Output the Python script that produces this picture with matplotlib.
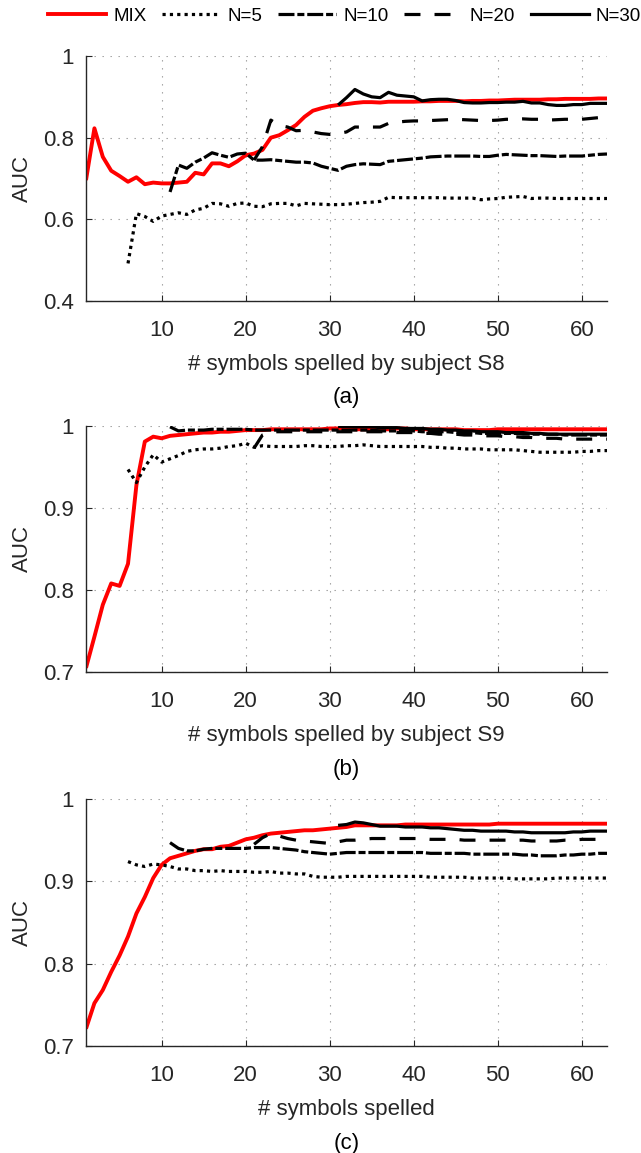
import numpy as np
import matplotlib
matplotlib.use("Agg")
import matplotlib.pyplot as plt
from matplotlib.lines import Line2D

plt.rcParams['font.family'] = ['Liberation Sans', 'DejaVu Sans']

# ---------------- data ----------------
series_names = ["MIX", "N=5", "N=10", "N=20", "N=30"]
series_start = [1, 6, 11, 21, 31]   # first symbol index of each curve
x_end = 63

# subject S8
mix_a = [0.696, 0.823, 0.753, 0.719, 0.706, 0.692, 0.703, 0.686, 0.690, 0.688,
         0.688, 0.690, 0.692, 0.714, 0.710, 0.737, 0.737, 0.730, 0.742, 0.757,
         0.761, 0.770, 0.800, 0.806, 0.818, 0.831, 0.851, 0.866, 0.872, 0.877,
         0.880, 0.882, 0.885, 0.887, 0.887, 0.886, 0.888, 0.888, 0.888, 0.888,
         0.889, 0.889, 0.890, 0.890, 0.890, 0.889, 0.890, 0.890, 0.891, 0.891,
         0.892, 0.893, 0.893, 0.893, 0.893, 0.894, 0.894, 0.895, 0.895, 0.895,
         0.895, 0.896, 0.896]
n5_a = [0.492, 0.614, 0.607, 0.595, 0.608, 0.612, 0.616, 0.612, 0.623, 0.627,
        0.639, 0.638, 0.632, 0.639, 0.640, 0.632, 0.631, 0.638, 0.639, 0.639,
        0.633, 0.639, 0.638, 0.637, 0.636, 0.636, 0.637, 0.639, 0.641, 0.642,
        0.644, 0.654, 0.653, 0.653, 0.653, 0.653, 0.653, 0.653, 0.652, 0.652,
        0.652, 0.652, 0.648, 0.650, 0.651, 0.654, 0.655, 0.656, 0.651, 0.652,
        0.652, 0.651, 0.651, 0.651, 0.651, 0.651, 0.651, 0.651]
n10_a = [0.667, 0.733, 0.725, 0.740, 0.750, 0.763, 0.757, 0.752, 0.760, 0.762,
         0.745, 0.745, 0.746, 0.744, 0.742, 0.740, 0.740, 0.738, 0.730, 0.725,
         0.720, 0.730, 0.734, 0.736, 0.735, 0.734, 0.742, 0.744, 0.746, 0.748,
         0.750, 0.753, 0.754, 0.755, 0.755, 0.755, 0.755, 0.754, 0.754, 0.757,
         0.759, 0.758, 0.757, 0.756, 0.756, 0.755, 0.754, 0.755, 0.755, 0.755,
         0.757, 0.759, 0.760]
n20_a = [0.745, 0.778, 0.843, 0.830, 0.826, 0.817, 0.818, 0.814, 0.810, 0.808,
         0.810, 0.814, 0.826, 0.826, 0.826, 0.826, 0.835, 0.838, 0.840, 0.841,
         0.841, 0.842, 0.843, 0.844, 0.845, 0.844, 0.843, 0.842, 0.842, 0.843,
         0.845, 0.845, 0.846, 0.845, 0.845, 0.843, 0.844, 0.845, 0.845, 0.845,
         0.847, 0.849, 0.851]
n30_a = [0.880, 0.898, 0.918, 0.907, 0.900, 0.898, 0.911, 0.904, 0.902, 0.900,
         0.890, 0.893, 0.894, 0.894, 0.891, 0.886, 0.885, 0.885, 0.886, 0.886,
         0.887, 0.887, 0.889, 0.885, 0.885, 0.881, 0.879, 0.879, 0.881, 0.881,
         0.884, 0.884, 0.884]

# subject S9
mix_b = [0.705, 0.743, 0.782, 0.808, 0.805, 0.832, 0.928, 0.981, 0.987, 0.985,
         0.988, 0.989, 0.990, 0.991, 0.992, 0.992, 0.993, 0.993, 0.994, 0.995,
         0.995, 0.995, 0.996, 0.996, 0.996, 0.996, 0.996, 0.996, 0.996, 0.997,
         0.997, 0.997, 0.996, 0.996, 0.996, 0.996, 0.996, 0.997, 0.997, 0.996,
         0.996, 0.996, 0.996, 0.996, 0.996, 0.995, 0.995, 0.995, 0.995, 0.996,
         0.996, 0.996, 0.996, 0.996, 0.996, 0.996, 0.996, 0.996, 0.996, 0.996,
         0.996, 0.996, 0.996]
n5_b = [0.947, 0.931, 0.950, 0.965, 0.956, 0.960, 0.964, 0.969, 0.971, 0.972,
        0.972, 0.973, 0.975, 0.976, 0.979, 0.974, 0.976, 0.975, 0.975, 0.975,
        0.975, 0.976, 0.976, 0.975, 0.975, 0.975, 0.976, 0.976, 0.977, 0.976,
        0.975, 0.975, 0.975, 0.975, 0.975, 0.975, 0.974, 0.974, 0.973, 0.973,
        0.972, 0.972, 0.972, 0.971, 0.971, 0.971, 0.971, 0.970, 0.969, 0.968,
        0.968, 0.968, 0.968, 0.968, 0.969, 0.969, 0.970, 0.970]
n10_b = [0.999, 0.994, 0.995, 0.995, 0.995, 0.996, 0.996, 0.996, 0.996, 0.996,
         0.995, 0.995, 0.995, 0.995, 0.995, 0.995, 0.995, 0.995, 0.995, 0.995,
         0.995, 0.995, 0.995, 0.995, 0.995, 0.994, 0.994, 0.994, 0.994, 0.994,
         0.993, 0.993, 0.993, 0.993, 0.992, 0.992, 0.992, 0.991, 0.991, 0.991,
         0.991, 0.991, 0.990, 0.990, 0.990, 0.990, 0.990, 0.989, 0.989, 0.989,
         0.989, 0.989, 0.989]
n20_b = [0.973, 0.989, 0.993, 0.993, 0.993, 0.993, 0.993, 0.993, 0.993, 0.993,
         0.993, 0.993, 0.993, 0.993, 0.993, 0.993, 0.993, 0.992, 0.992, 0.992,
         0.991, 0.991, 0.990, 0.990, 0.990, 0.989, 0.989, 0.988, 0.988, 0.988,
         0.987, 0.987, 0.986, 0.986, 0.985, 0.985, 0.985, 0.984, 0.984, 0.984,
         0.984, 0.984, 0.984]
n30_b = [0.9995, 0.9995, 0.999, 0.999, 0.999, 0.998, 0.998, 0.998, 0.997, 0.997,
         0.997, 0.996, 0.996, 0.995, 0.995, 0.994, 0.994, 0.993, 0.993, 0.993,
         0.992, 0.992, 0.992, 0.991, 0.991, 0.990, 0.990, 0.990, 0.990, 0.990,
         0.990, 0.990, 0.990]

# all subjects
mix_c = [0.721, 0.752, 0.768, 0.790, 0.810, 0.833, 0.861, 0.881, 0.904, 0.920,
         0.928, 0.931, 0.934, 0.937, 0.939, 0.939, 0.942, 0.943, 0.947, 0.951,
         0.953, 0.956, 0.958, 0.959, 0.960, 0.961, 0.962, 0.962, 0.963, 0.964,
         0.965, 0.966, 0.968, 0.968, 0.968, 0.968, 0.968, 0.968, 0.969, 0.969,
         0.969, 0.969, 0.969, 0.969, 0.969, 0.969, 0.969, 0.969, 0.969, 0.970,
         0.970, 0.970, 0.970, 0.970, 0.970, 0.970, 0.970, 0.970, 0.970, 0.970,
         0.970, 0.970, 0.970]
n5_c = [0.924, 0.920, 0.918, 0.921, 0.920, 0.918, 0.915, 0.915, 0.913, 0.913,
        0.912, 0.913, 0.912, 0.912, 0.912, 0.911, 0.911, 0.912, 0.910, 0.910,
        0.909, 0.909, 0.906, 0.905, 0.905, 0.905, 0.906, 0.906, 0.906, 0.906,
        0.906, 0.906, 0.906, 0.906, 0.906, 0.906, 0.905, 0.905, 0.905, 0.905,
        0.905, 0.904, 0.904, 0.904, 0.904, 0.904, 0.903, 0.903, 0.903, 0.903,
        0.903, 0.904, 0.904, 0.904, 0.904, 0.904, 0.904, 0.904]
n10_c = [0.947, 0.940, 0.937, 0.937, 0.939, 0.940, 0.940, 0.940, 0.940, 0.940,
         0.941, 0.941, 0.941, 0.940, 0.939, 0.938, 0.936, 0.935, 0.934, 0.933,
         0.934, 0.935, 0.935, 0.935, 0.935, 0.935, 0.935, 0.935, 0.935, 0.935,
         0.935, 0.934, 0.934, 0.934, 0.934, 0.934, 0.933, 0.933, 0.933, 0.933,
         0.933, 0.933, 0.932, 0.932, 0.931, 0.931, 0.931, 0.932, 0.932, 0.933,
         0.933, 0.934, 0.934]
n20_c = [0.945, 0.953, 0.958, 0.955, 0.952, 0.950, 0.949, 0.948, 0.947, 0.946,
         0.948, 0.950, 0.950, 0.951, 0.952, 0.952, 0.952, 0.952, 0.952, 0.952,
         0.952, 0.951, 0.951, 0.951, 0.951, 0.950, 0.950, 0.950, 0.950, 0.950,
         0.950, 0.950, 0.950, 0.949, 0.949, 0.949, 0.949, 0.950, 0.950, 0.951,
         0.951, 0.951, 0.951]
n30_c = [0.968, 0.969, 0.972, 0.971, 0.969, 0.967, 0.967, 0.967, 0.966, 0.966,
         0.966, 0.965, 0.965, 0.964, 0.963, 0.962, 0.962, 0.961, 0.961, 0.961,
         0.961, 0.960, 0.960, 0.959, 0.959, 0.959, 0.959, 0.959, 0.960, 0.960,
         0.961, 0.961, 0.961]

panel_series = [
    [mix_a, n5_a, n10_a, n20_a, n30_a],
    [mix_b, n5_b, n10_b, n20_b, n30_b],
    [mix_c, n5_c, n10_c, n20_c, n30_c],
]
panel_xlabels = ["# symbols spelled by subject S8",
                 "# symbols spelled by subject S9",
                 "# symbols spelled"]
panel_tags = ["(a)", "(b)", "(c)"]
panel_yticks = [[0.4, 0.6, 0.8, 1.0], [0.7, 0.8, 0.9, 1.0], [0.7, 0.8, 0.9, 1.0]]
panel_yticklabels = [["0.4", "0.6", "0.8", "1"], ["0.7", "0.8", "0.9", "1"],
                     ["0.7", "0.8", "0.9", "1"]]
xticks = [10, 20, 30, 40, 50, 60]

# ---------------- styling ----------------
W, H = 641, 1153
DPI = 100
AX_GRAY = (0.15, 0.15, 0.15)
FS = 16

styles = [
    dict(color="#ff0000", lw=2.8, ls="-"),
    dict(color="black", lw=2.3, ls=(0, (1.0, 1.3)), dash_capstyle="butt"),
    dict(color="black", lw=2.3, ls=(0, (5.0, 0.9, 2.2, 0.9)), dash_capstyle="butt"),
    dict(color="black", lw=2.3, ls=(0, (5.0, 4.4)), dash_capstyle="butt"),
    dict(color="black", lw=2.3, ls="-"),
]

fig = plt.figure(figsize=(W / DPI, H / DPI), dpi=DPI)

# axes boxes in pixel coordinates: (top, bottom)
left_px, right_px = 86, 607
boxes = [(56, 301), (426, 672), (799, 1046)]

for k, (top, bot) in enumerate(boxes):
    ax = fig.add_axes([left_px / W, 1 - bot / H, (right_px - left_px) / W, (bot - top) / H])
    for vals, start, st in zip(panel_series[k], series_start, styles):
        xs = np.arange(start, start + len(vals))
        ax.plot(xs, vals, solid_capstyle="butt", **st)
    ax.set_xlim(1, x_end)
    yt = panel_yticks[k]
    ax.set_ylim(yt[0], yt[-1])
    ax.set_xticks(xticks)
    ax.set_yticks(yt)
    ax.set_yticklabels(panel_yticklabels[k])
    ax.grid(True, color="0.6", lw=0.8, ls=(0, (1.2, 6)))
    for side in ("top", "right"):
        ax.spines[side].set_visible(False)
    for side in ("left", "bottom"):
        ax.spines[side].set_color(AX_GRAY)
        ax.spines[side].set_linewidth(1.0)
    ax.tick_params(direction="in", length=4, width=0.8, color=AX_GRAY,
                   labelcolor=AX_GRAY, labelsize=FS)
    ax.tick_params(axis="x", pad=14)
    ax.tick_params(axis="y", pad=9)
    ax.set_axisbelow(True)
    fig.text(22 / W, 1 - (top + bot) / 2 / H, "AUC", rotation=90, ha="center",
             va="center", fontsize=FS, color=AX_GRAY)
    fig.text((left_px + right_px) / 2 / W, 1 - (bot + 64) / H, panel_xlabels[k],
             ha="center", va="center", fontsize=FS, color=AX_GRAY)
    fig.text((left_px + right_px) / 2 / W, 1 - (bot + 97) / H, panel_tags[k],
             ha="center", va="center", fontsize=FS, color="black")

handles = [Line2D([], [], **st) for st in styles]
fig.legend(handles, series_names, loc="center left",
           bbox_to_anchor=(48 / W, 1 - 16 / H), ncol=5, frameon=False,
           fontsize=13.5, handlelength=3.1, handletextpad=0.37,
           columnspacing=0.85, borderpad=0, borderaxespad=0)

fig.savefig("out.png", dpi=DPI)
